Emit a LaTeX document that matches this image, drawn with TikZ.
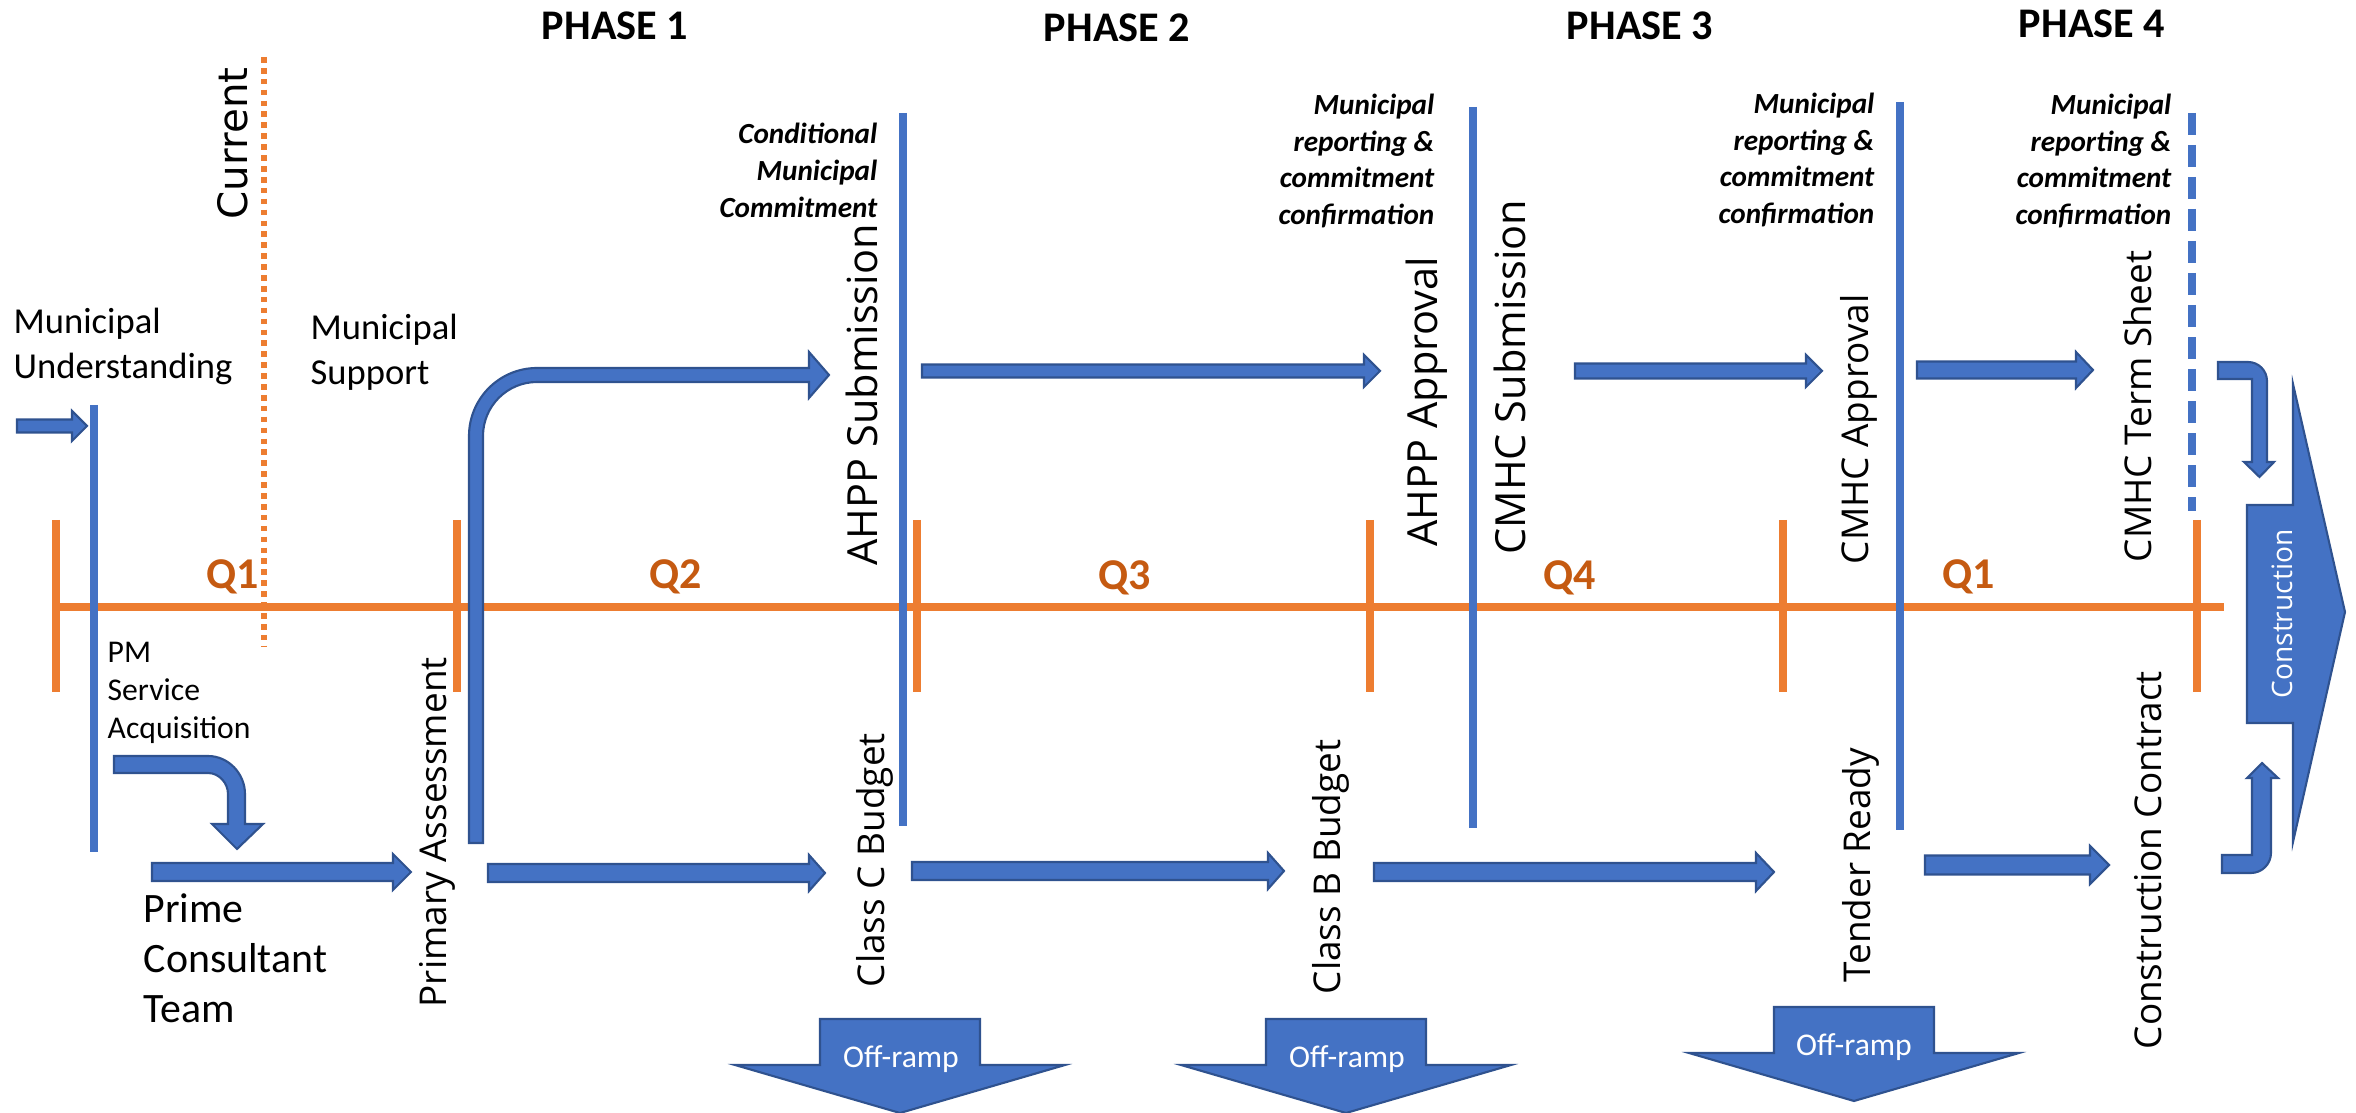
\documentclass[tikz,border=0pt]{standalone}
\usepackage{fontspec}
\setmainfont{Carlito}
\newfontfamily\markfont{Open Sans}
\newfontfamily\nowfont{DejaVu Sans}
\usetikzlibrary{calc}

\definecolor{tlorange}{HTML}{ED7D31}
\definecolor{qorange}{HTML}{C55A11}
\definecolor{msblue}{HTML}{4472C4}
\definecolor{msedge}{HTML}{2F528F}

\tikzset{
  timeline/.style={tlorange, line width=2pt},
  nowline/.style={tlorange, line width=1.5pt, dash pattern=on 1.6pt off 1.5pt},
  gate/.style={msblue, line width=2pt},
  blockarrow/.style={fill=msblue, draw=msedge, line width=0.6pt, line join=miter},
  phase/.style={anchor=base, inner sep=0pt, font=\bfseries\fontsize{12}{14}\selectfont},
  quarter/.style={anchor=base, inner sep=0pt, text=qorange, font=\bfseries\fontsize{12.5}{14}\selectfont},
  note/.style={anchor=west, align=left, inner sep=0pt, font=\fontsize{10.4}{12.8}\selectfont},
  commit/.style={anchor=east, align=right, inner sep=0pt, font=\bfseries\itshape\fontsize{8.3}{10.5}\selectfont},
  milestone/.style={rotate=90, anchor=west, inner sep=0pt, font=\markfont\fontsize{10.5}{12}\selectfont},
  widemilestone/.style={milestone, font=\markfont\fontsize{11.8}{13}\selectfont},
  ramp/.style={text=white, inner sep=0pt, font=\fontsize{9}{10}\selectfont}
}

% straight block arrow between two named coordinates: shaft half, head half, head length
\newcommand{\flowarrow}[5]{%
  \draw[blockarrow] let \p1=(#1), \p2=(#2) in
    (\x1,{\y1+#3}) -- ({\x2-#5},{\y1+#3}) -- ({\x2-#5},{\y1+#4}) -- (\x2,\y1)
    -- ({\x2-#5},{\y1-#4}) -- ({\x2-#5},{\y1-#3}) -- (\x1,{\y1-#3}) -- cycle;}

\begin{document}
\begin{tikzpicture}[x=0.01cm, y=-0.01cm]
\useasboundingbox (0,0) rectangle (2356,1113);

% quarters
\draw[timeline] (56,607) -- (2224,607);
\foreach \tx in {56,457,917,1370,1783,2197}
  \draw[timeline] (\tx,520) -- (\tx,692);
\draw[nowline] (264,57) -- (264,647);

\node[quarter] (q1) at (233,589) {Q1};
\node[quarter] (q2) at (676,589) {Q2};
\node[quarter] (q3) at (1125,590) {Q3};
\node[quarter] (q4) at (1570,590) {Q4};
\node[quarter] (q5) at (1969,589) {Q1};

% gates
\draw[gate] (94,405) -- (94,852);
\draw[gate] (903,113) -- (903,826);
\draw[gate] (1473,107) -- (1473,828);
\draw[gate] (1900,102) -- (1900,830);
\draw[gate, dash pattern=on 6.3pt off 2.8pt] (2192,113) -- (2192,511);

\node[phase] (ph1) at (615,40) {PHASE 1};
\node[phase] (ph2) at (1117,42) {PHASE 2};
\node[phase] (ph3) at (1640,40) {PHASE 3};
\node[phase] (ph4) at (2092,38) {PHASE 4};

\node[commit] (cmc) at (878,170) {Conditional\\Municipal\\Commitment};
\node[commit] (mrc1) at (1435,161) {Municipal\\reporting \&\\commitment\\confirmation};
\node[commit] (mrc2) at (1875,160) {Municipal\\reporting \&\\commitment\\confirmation};
\node[commit] (mrc3) at (2172,161) {Municipal\\reporting \&\\commitment\\confirmation};

\node[note] (mund) at (13,346) {Municipal\\Understanding};
\node[note] (msup) at (310,352) {Municipal\\Support};
\node[note, font=\fontsize{9}{10.8}\selectfont] (pmsa) at (107,693) {PM\\Service\\Acquisition};
\node[note, font=\fontsize{11.9}{14.2}\selectfont] (pct) at (143,958) {Prime\\Consultant\\Team};

\node[milestone, font=\nowfont\fontsize{11.5}{13}\selectfont] (cur) at (233,220) {Current};
\node[milestone] (pa) at (437,1008) {Primary Assessment};
\node[widemilestone] (ahpps) at (862,566) {AHPP Submission};
\node[milestone] (ccb) at (875,988) {Class C Budget};
\node[milestone] (cbb) at (1331,995) {Class B Budget};
\node[widemilestone] (ahppa) at (1427,547) {AHPP Approval};
\node[widemilestone] (cmhcs) at (1510,555) {CMHC Submission};
\node[milestone] (cmhca) at (1859,565) {CMHC Approval};
\node[milestone] (cmhct) at (2138,563) {CMHC Term Sheet};
\node[milestone] (tr) at (1861,983) {Tender Ready};
\node[milestone] (ccon) at (2148,1050) {Construction Contract};

% arrows
\coordinate (in-s) at (17,426);     \coordinate (in-e) at (87,426);
\coordinate (ahpp-s) at (922,371);  \coordinate (ahpp-e) at (1380,371);
\coordinate (cmhc-s) at (1575,371); \coordinate (cmhc-e) at (1822,371);
\coordinate (term-s) at (1917,370); \coordinate (term-e) at (2093,370);
\coordinate (pct-s) at (152,872);   \coordinate (pct-e) at (411,872);
\coordinate (pa-s) at (488,873);    \coordinate (pa-e) at (825,873);
\coordinate (ccb-s) at (912,871);   \coordinate (ccb-e) at (1284,871);
\coordinate (cbb-s) at (1374,872);  \coordinate (cbb-e) at (1774,872);
\coordinate (tr-s) at (1925,865);   \coordinate (tr-e) at (2109,865);

\flowarrow{in-s}{in-e}{0.065cm}{0.15cm}{0.15cm}
\flowarrow{ahpp-s}{ahpp-e}{0.065cm}{0.16cm}{0.16cm}
\flowarrow{cmhc-s}{cmhc-e}{0.075cm}{0.16cm}{0.16cm}
\flowarrow{term-s}{term-e}{0.085cm}{0.18cm}{0.17cm}
\flowarrow{pct-s}{pct-e}{0.09cm}{0.18cm}{0.18cm}
\flowarrow{pa-s}{pa-e}{0.09cm}{0.18cm}{0.16cm}
\flowarrow{ccb-s}{ccb-e}{0.09cm}{0.18cm}{0.16cm}
\flowarrow{cbb-s}{cbb-e}{0.09cm}{0.19cm}{0.18cm}
\flowarrow{tr-s}{tr-e}{0.095cm}{0.19cm}{0.19cm}

% bent arrows
\draw[blockarrow] (469,843) -- (469,436) .. controls (469,398.5) and (499.5,368) .. (537,368)
  -- (809,368) -- (809,352) -- (829,375) -- (809,398) -- (809,382) -- (537,382)
  .. controls (507.2,382) and (483,406.2) .. (483,436) -- (483,843) -- cycle;
\draw[blockarrow] (114,756) -- (208,756) .. controls (228.4,756) and (245,773.6) .. (245,794)
  -- (245,824) -- (263,824) -- (237,849) -- (212,824) -- (228,824) -- (228,794)
  .. controls (228,783) and (219,773) .. (208,773) -- (114,773) -- cycle;
\draw[blockarrow] (2218,362) -- (2248,362) .. controls (2258.5,362) and (2267,370.5) .. (2267,381)
  -- (2267,462) -- (2274,462) -- (2259.5,477) -- (2244,462) -- (2252,462) -- (2252,379)
  -- (2218,379) -- cycle;
\draw[blockarrow] (2222,855) -- (2252,855) -- (2252,778) -- (2247,778) -- (2262,763)
  -- (2278,778) -- (2271,778) -- (2271,853) .. controls (2271,864) and (2262,873) .. (2251,873)
  -- (2222,873) -- cycle;

% construction
\draw[blockarrow] (2247,505) -- (2293,505) -- (2293,384) -- (2345,612) -- (2293,842)
  -- (2293,723) -- (2247,723) -- cycle;
\node[ramp, rotate=90, font=\markfont\fontsize{8}{9}\selectfont] (build) at (2282,614) {Construction};

% off-ramps
\foreach \rx/\ry in {900/1019, 1346/1019, 1854/1007}
  \draw[blockarrow, shift={(\rx,\ry)}] (-80,0) -- (80,0) -- (80,46) -- (165,46) -- (0,94)
    -- (-165,46) -- (-80,46) -- cycle;
\node[ramp] (or1) at (901,1059) {Off-ramp};
\node[ramp] (or2) at (1347,1059) {Off-ramp};
\node[ramp] (or3) at (1854,1047) {Off-ramp};

\end{tikzpicture}
\end{document}
